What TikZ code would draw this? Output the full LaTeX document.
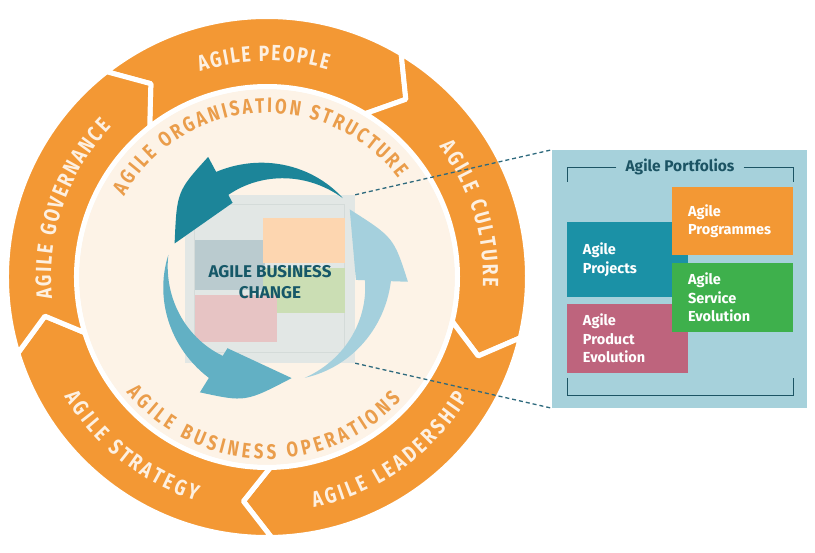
\documentclass[tikz,border=0pt]{standalone}
\usepackage{fontspec}
\setmainfont{Fira Sans}
\newfontfamily\din{Fira Sans}[FakeStretch=0.8]
\usetikzlibrary{decorations.text}
\definecolor{ringor}{RGB}{243,152,52}
\definecolor{cream}{RGB}{253,243,231}
\definecolor{ringtext}{RGB}{253,240,225}
\definecolor{innertext}{RGB}{234,157,75}
\definecolor{sqfill}{RGB}{226,231,229}
\definecolor{sqframe}{RGB}{212,219,217}
\definecolor{bluegrey}{RGB}{186,203,207}
\definecolor{peach}{RGB}{253,214,176}
\definecolor{lgreen}{RGB}{203,222,180}
\definecolor{lpink}{RGB}{231,196,196}
\definecolor{centretext}{RGB}{22,88,104}
\definecolor{arrdark}{RGB}{28,133,153}
\definecolor{arrmid}{RGB}{98,176,196}
\definecolor{arrlight}{RGB}{165,208,221}
\definecolor{panelc}{RGB}{166,209,219}
\definecolor{projc}{RGB}{27,145,166}
\definecolor{servc}{RGB}{62,176,76}
\definecolor{prodc}{RGB}{190,100,125}
\definecolor{pline}{RGB}{28,84,100}
\definecolor{dashc}{RGB}{45,105,125}
\newcommand\ringfont{\din\bfseries\fontsize{22}{24}\selectfont}
\newcommand\innerfont{\din\bfseries\fontsize{21}{24}\selectfont}
\tikzset{
  ringseg/.style={fill=ringor, draw=white, line width=5pt, line join=round},
  ringtxt/.style={decorate, decoration={text along path, text align=fit to path, text color=ringtext, text={|\ringfont|#1}}},
  innertxt/.style={decorate, decoration={text along path, text align=fit to path, text color=innertext, text={|\innerfont|#1}}},
  sqbox/.style={fill=sqfill, minimum width=170pt, minimum height=168pt, inner sep=0pt},
  ctext/.style={text=centretext, align=center, font=\bfseries\fontsize{17}{20.5}\selectfont},
  panelbox/.style={fill=panelc, minimum width=255pt, minimum height=258pt, inner sep=0pt},
  ptitle/.style={text=pline, font=\bfseries\fontsize{15.5}{18}\selectfont, inner xsep=9pt},
  bracket/.style={draw=pline, line width=0.9pt},
  pbox/.style={text width=89pt, inner xsep=16pt, inner ysep=0pt, align=left, text=white, font=\bfseries\fontsize{14.5}{18.5}\selectfont, minimum width=121pt},
  dashline/.style={draw=dashc, line width=1.3pt, dash pattern=on 4pt off 3pt}
}
\begin{document}
\begin{tikzpicture}[x=1pt,y=1pt]
\useasboundingbox[fill=white] (-267,-276) rectangle (548,277);
% cream inner disc
\fill[cream] (0,0) circle[radius=188];
% outer ring of chevron segments
\foreach \s/\e in {128/59,59/-13.5,-13.5/-89,-89/-163,197/128}{
  \path[ringseg] (\s:260.5) arc[start angle=\s,end angle=\e,radius=260.5] -- ({\e-7}:225.5) -- (\e:190.5) arc[start angle=\e,end angle=\s,radius=190.5] -- ({\s-7}:225.5) -- cycle;
}
% ring labels
\path[ringtxt={AGILE PEOPLE}] (108:216) arc[start angle=108,end angle=73.7,radius=216];
\path[ringtxt={AGILE CULTURE}] (37:216) arc[start angle=37,end angle=-2.5,radius=216];
\path[ringtxt={AGILE GOVERNANCE}] (185.7:216) arc[start angle=185.7,end angle=136,radius=216];
\path[ringtxt={AGILE LEADERSHIP}] (-78.5:235) arc[start angle=-78.5,end angle=-31,radius=235];
\path[ringtxt={AGILE STRATEGY}] (-149.5:235) arc[start angle=-149.5,end angle=-107.6,radius=235];
% inner labels
\path[innertxt={AGILE ORGANISATION STRUCTURE}] (150.5:164) arc[start angle=150.5,end angle=37,radius=164];
\path[innertxt={AGILE BUSINESS OPERATIONS}] (-140.5:182) arc[start angle=-140.5,end angle=-42.5,radius=182];
% centre square
\node[sqbox] (sq) at (3,-2) {};
\draw[sqframe, line width=1pt] (-72,72) rectangle (78,-76);
\fill[bluegrey] (-72,37) rectangle (-2,-13);
\fill[peach] (-4,59) rectangle (78,14);
\fill[lgreen] (-4,9) rectangle (78,-36);
\fill[lpink] (-72,-18) rectangle (10,-65);
% cycle arrows
\begin{scope}[shift={(5,0)}]
\foreach \p/\col in {0/arrdark,120/arrmid,240/arrlight}{
  \fill[\col] plot[domain=0:1,samples=30] ({48+\p+70*\x}:{106+13*\x}) -- ({118+\p}:136) .. controls ({138+\p}:128) .. ({161+\p}:103) -- ({118+\p}:84) -- plot[domain=1:0,samples=30] ({48+\p+70*\x}:{106-13*\x}) -- cycle;
}
\end{scope}
\node[ctext] (abc) at (3,-5) {AGILE BUSINESS\\CHANGE};
% portfolio panel
\node[panelbox] (panel) at (412.5,-2) {};
\node[ptitle] (title) at (413,110) {Agile Portfolios};
\coordinate (tl1) at (300,95);
\coordinate (tl2) at (300,110);
\coordinate (tr2) at (526,110);
\coordinate (tr1) at (526,95);
\coordinate (bl1) at (300,-101);
\coordinate (bl2) at (300,-118);
\coordinate (br2) at (526,-118);
\coordinate (br1) at (526,-101);
\draw[bracket] (title.west) -- (tl2) -- (tl1);
\draw[bracket] (title.east) -- (tr2) -- (tr1);
\draw[bracket] (bl1) -- (bl2) -- (br2) -- (br1);
\node[pbox, fill=projc, minimum height=75pt] (proj) at (360.5,17.5) {Agile\\Projects};
\node[pbox, fill=ringor, minimum height=68pt] (prog) at (465.5,56) {Agile\\Programmes};
\node[pbox, fill=prodc, minimum height=69pt] (prod) at (360.5,-61.5) {Agile\\Product\\Evolution};
\node[pbox, fill=servc, minimum height=69pt] (serv) at (465.5,-20.5) {Agile\\Service\\Evolution};
% zoom connectors
\draw[dashline] (sq.north east) -- (panel.north west);
\draw[dashline] (sq.south east) -- (panel.south west);
\end{tikzpicture}
\end{document}
